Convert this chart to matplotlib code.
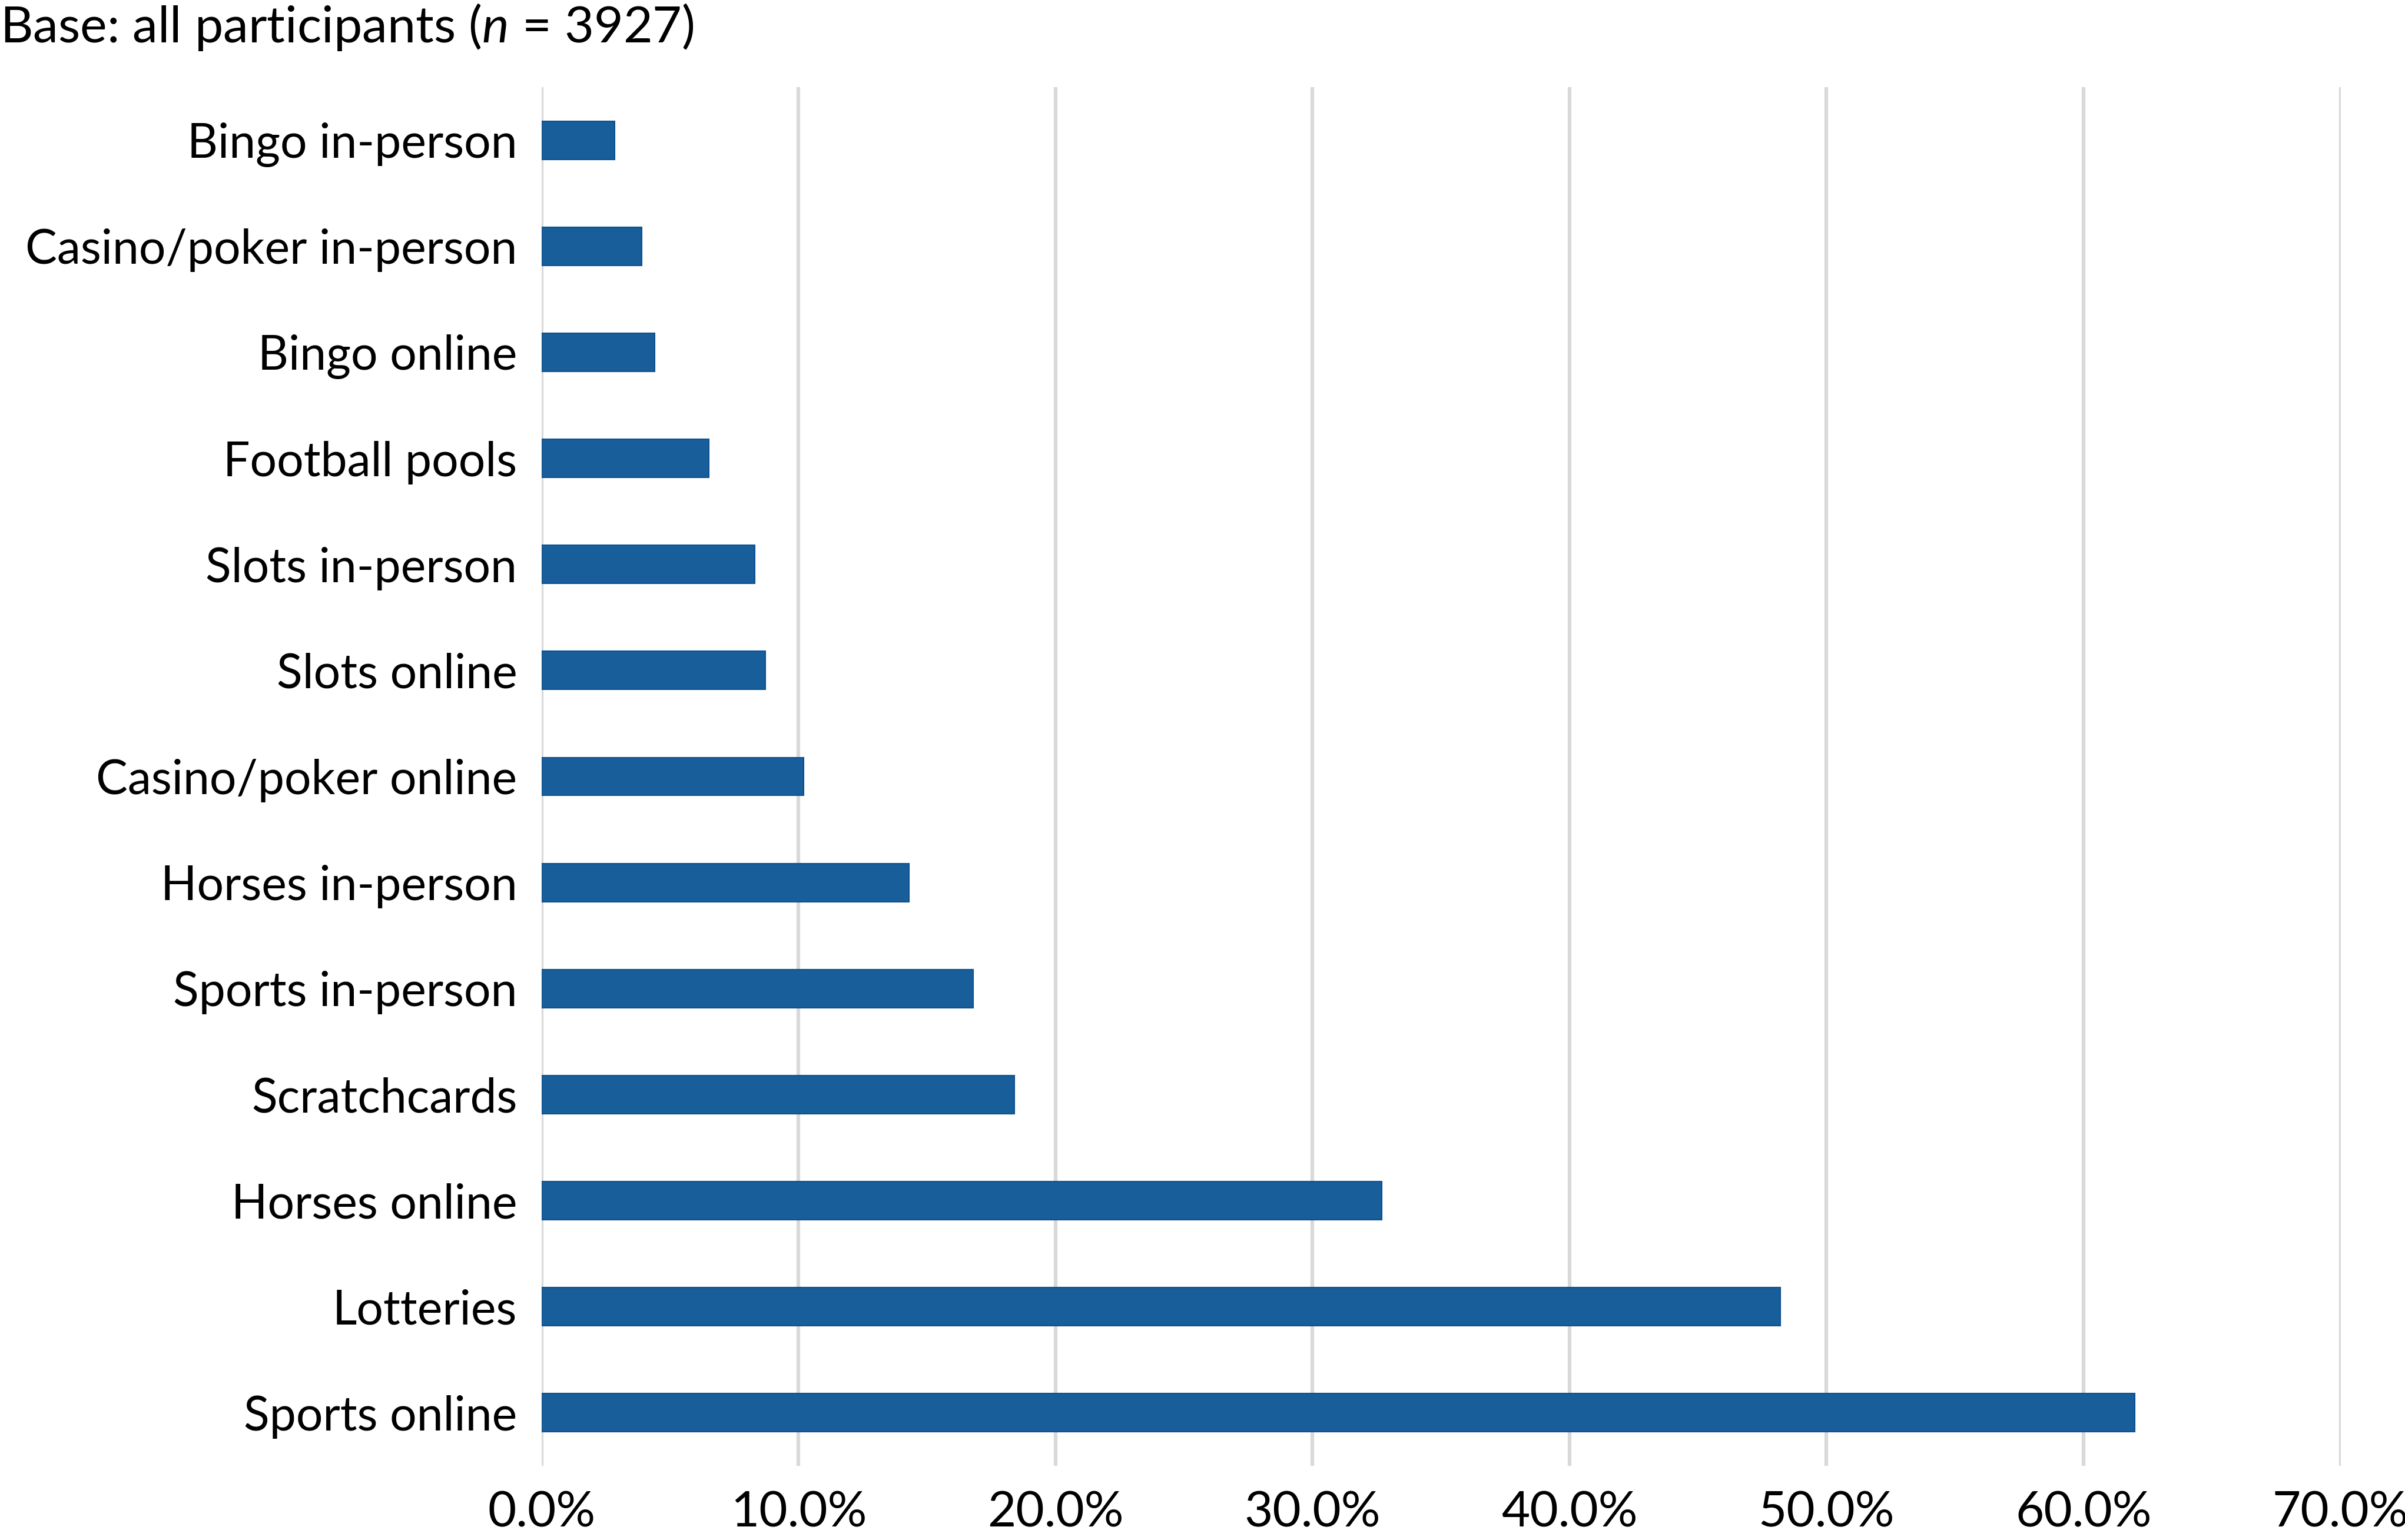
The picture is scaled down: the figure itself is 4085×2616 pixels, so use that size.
import matplotlib.pyplot as plt
from matplotlib.ticker import FuncFormatter

# Gambling activity shares, top to bottom as shown
activities = ["Bingo in-person", "Casino/poker in-person", "Bingo online", "Football pools",
              "Slots in-person", "Slots online", "Casino/poker online", "Horses in-person",
              "Sports in-person", "Scratchcards", "Horses online", "Lotteries", "Sports online"]
percent = [2.85, 3.9, 4.4, 6.5, 8.3, 8.7, 10.2, 14.3, 16.8, 18.4, 32.7, 48.2, 62.0]
x_ticks = [0, 10, 20, 30, 40, 50, 60, 70]

plt.rcParams['font.family'] = ['Lato', 'DejaVu Sans']
plt.rcParams['mathtext.fontset'] = 'custom'
plt.rcParams['mathtext.rm'] = 'Lato'
plt.rcParams['mathtext.it'] = 'Lato:italic'

fig = plt.figure(figsize=(40.85, 26.16), dpi=100)
ax = fig.add_axes([0.2252, 0.0482, 0.7480, 0.8952])

ax.barh(activities, percent, height=0.36, color="#175e9a", edgecolor="#0f5090", linewidth=1.5, zorder=3)
ax.set_ylim(len(activities) - 0.5, -0.5)
ax.set_xlim(0, 70)
ax.set_xticks(x_ticks)
ax.xaxis.set_major_formatter(FuncFormatter(lambda v, p: f"{v:.1f}%"))

ax.grid(axis="x", color="#d9d9d9", linewidth=4.5, zorder=0)
for s in ax.spines.values():
    s.set_visible(False)
ax.tick_params(axis="both", length=0, colors="black")
ax.tick_params(axis="x", pad=31, labelsize=60)
ax.tick_params(axis="y", pad=30, labelsize=58)

fig.text(0.0, 0.999, "Base: all participants ($n$ = 3927)", fontsize=62, ha="left", va="top")

fig.savefig("out.png", dpi=100)
